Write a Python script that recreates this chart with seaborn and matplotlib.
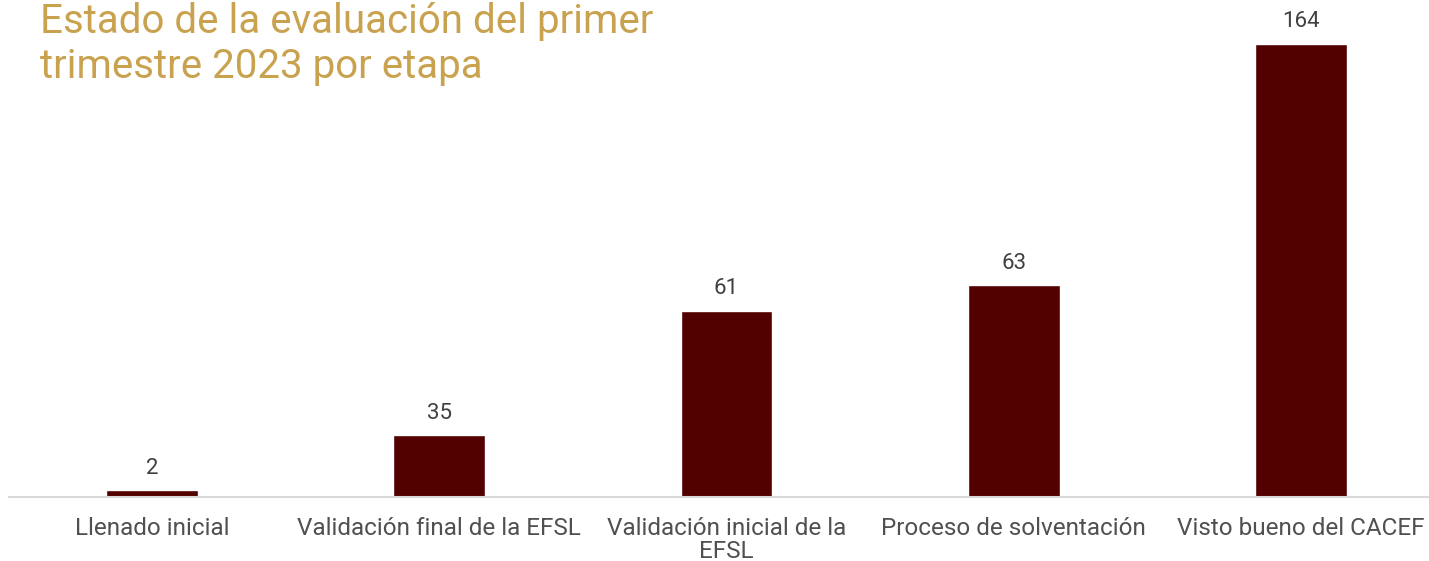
import matplotlib
matplotlib.use("Agg")
import matplotlib.pyplot as plt
import seaborn as sns
import pandas as pd

# datos del gráfico
etapas = ["Llenado inicial", "Validación final de la EFSL",
          "Validación inicial de la\nEFSL", "Proceso de solventación",
          "Visto bueno del CACEF"]
# alturas de barra tal como aparecen en la imagen
alturas = [2.2, 22.1, 67.3, 76.4, 164]
# etiquetas de valor mostradas sobre cada barra
etiquetas = ["2", "35", "61", "63", "164"]

df = pd.DataFrame({"etapa": etapas, "valor": alturas})

sns.set_theme(style="white")
plt.rcParams["font.family"] = ["Roboto", "DejaVu Sans"]

W, H = 1429, 561
fig = plt.figure(figsize=(W / 100, H / 100), dpi=100)
ax = fig.add_axes([9 / W, (H - 496.5) / H, (W - 9) / W, 496.5 / H])

sns.barplot(data=df, x="etapa", y="valor", color="#520000", width=0.32,
            saturation=1, ax=ax)

unit = 287.25
ax.set_xlim(-(152 - 9) / unit, (W - 152) / unit)
ax.set_ylim(0, 496.5 / (453 / 164))

for i, txt in enumerate(etiquetas):
    ax.annotate(txt, (i, alturas[i]), xytext=(0, 8), textcoords="offset points",
                ha="center", va="bottom", fontsize=16, color="#404040")

ax.set_xlabel("")
ax.set_ylabel("")
ax.set_yticks([])
ax.tick_params(axis="x", length=0, labelsize=17.5, labelcolor="#505050", pad=15)
for lbl in ax.get_xticklabels():
    lbl.set_linespacing(1.0)
for s in ["top", "right", "left"]:
    ax.spines[s].set_visible(False)
ax.spines["bottom"].set_color("#d9d9d9")
ax.spines["bottom"].set_linewidth(1.5)

fig.text(40 / W, 1 - 2 / H, "Estado de la evaluación del primer\ntrimestre 2023 por etapa",
         ha="left", va="top", fontsize=29, color="#C9A24F", linespacing=1.2)

fig.savefig("out.png", dpi=100)
